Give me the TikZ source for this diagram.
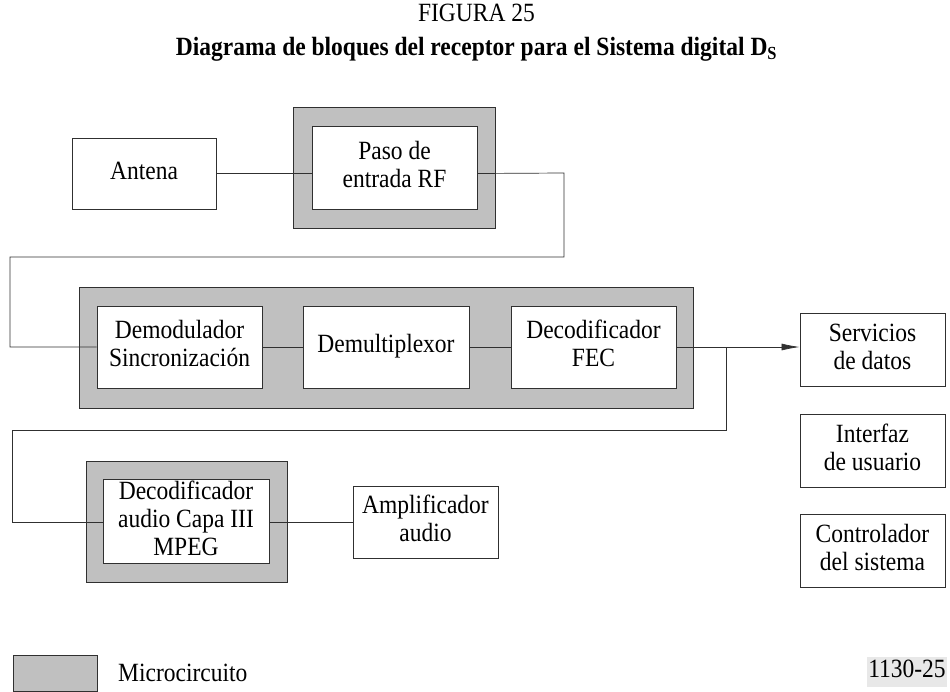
\documentclass[tikz,border=0pt]{standalone}
\usepackage{fontspec}
\usepackage{graphicx}
\setmainfont{Liberation Serif}
\usetikzlibrary{arrows.meta}
\definecolor{chipgray}{HTML}{C0C0C0}
\definecolor{edgec}{HTML}{303030}
\newcommand{\stx}[1]{\scalebox{1}[1.12]{\begin{tabular}{@{}c@{}}#1\end{tabular}}}
\begin{document}
\begin{tikzpicture}[x=1pt,y=-1pt,
  txt/.style={font=\fontsize{23.5}{25}\selectfont, align=center, inner sep=0pt},
  blk/.style={txt, draw=edgec, line width=0.9pt, fill=white},
  chip/.style={draw=edgec, line width=0.9pt, fill=chipgray, inner sep=0pt},
  wire/.style={draw=edgec, line width=0.7pt}]
\useasboundingbox (0,0) rectangle (950,691);
% titles
\node[txt] (fig) at (476.5,16) {\stx{FIGURA 25}};
\node[txt] (title) at (476.5,50) {\stx{\bfseries Diagrama de bloques del receptor para el Sistema digital D\textsubscript{S}}};
% chips (grey packages)
\node[chip, minimum width=202pt, minimum height=121pt] (pasochip) at (394,167.5) {};
\node[chip, minimum width=614pt, minimum height=121pt] (mainchip) at (386,347.5) {};
\node[chip, minimum width=201pt, minimum height=121pt] (mpegchip) at (186.5,521.5) {};
% blocks
\node[blk, minimum width=144pt, minimum height=71pt] (ant) at (144,173.5) {\stx{Antena}};
\node[blk, minimum width=165pt, minimum height=83pt] (paso) at (394.5,167.5) {\stx{Paso de\\entrada RF}};
\node[blk, minimum width=165pt, minimum height=82pt] (demod) at (179.5,347) {\stx{Demodulador\\Sincronización}};
\node[blk, minimum width=166pt, minimum height=82pt] (demux) at (386,347) {\stx{Demultiplexor}};
\node[blk, minimum width=165pt, minimum height=82pt] (fec) at (593.5,347) {\stx{Decodificador\\FEC}};
\node[blk, minimum width=145pt, minimum height=73pt] (serv) at (872.5,349.5) {\stx{Servicios\\de datos}};
\node[blk, minimum width=145pt, minimum height=73pt] (ui) at (872.5,450.5) {\stx{Interfaz\\de usuario}};
\node[blk, minimum width=145pt, minimum height=73pt] (ctrl) at (872.5,550.5) {\stx{Controlador\\del sistema}};
\node[blk, minimum width=166pt, minimum height=83pt] (mpeg) at (186,521.5) {\stx{Decodificador\\audio Capa III\\MPEG}};
\node[blk, minimum width=145pt, minimum height=72pt] (amp) at (425.5,522) {\stx{Amplificador\\audio}};
% connector corner points
\coordinate (c1) at (564,173);
\coordinate (c2) at (564,257);
\coordinate (c3) at (10,257);
\coordinate (c4) at (10,347);
\coordinate (br) at (726,347);
\coordinate (d1) at (726,430);
\coordinate (d2) at (12,430);
\coordinate (d3) at (12,522);
% connectors
\draw[wire] (ant.east) -- (ant.east -| paso.west);
\draw[wire] (ant.east -| paso.east) -- (c1) -- (c2) -- (c3) -- (c4) -- (c4 -| demod.west);
\draw[wire] (demod.east) -- (demux.west);
\draw[wire] (demux.east) -- (fec.west);
\draw[wire, -{Latex[length=18pt,width=7pt]}] (fec.east) -- (fec.east -| serv.west);
\draw[wire] (br) -- (d1) -- (d2) -- (d3) -- (d3 -| mpeg.west);
\draw[wire] (d3 -| mpeg.east) -- (d3 -| amp.west);
% legend
\node[chip, minimum width=84pt, minimum height=36pt] (leg) at (55,673) {};
\node[txt, anchor=west] (legt) at (118,676) {\stx{Microcircuito}};
\node[txt, fill=gray!18, inner sep=1pt] (code) at (907,672) {\stx{1130-25}};
\end{tikzpicture}
\end{document}
